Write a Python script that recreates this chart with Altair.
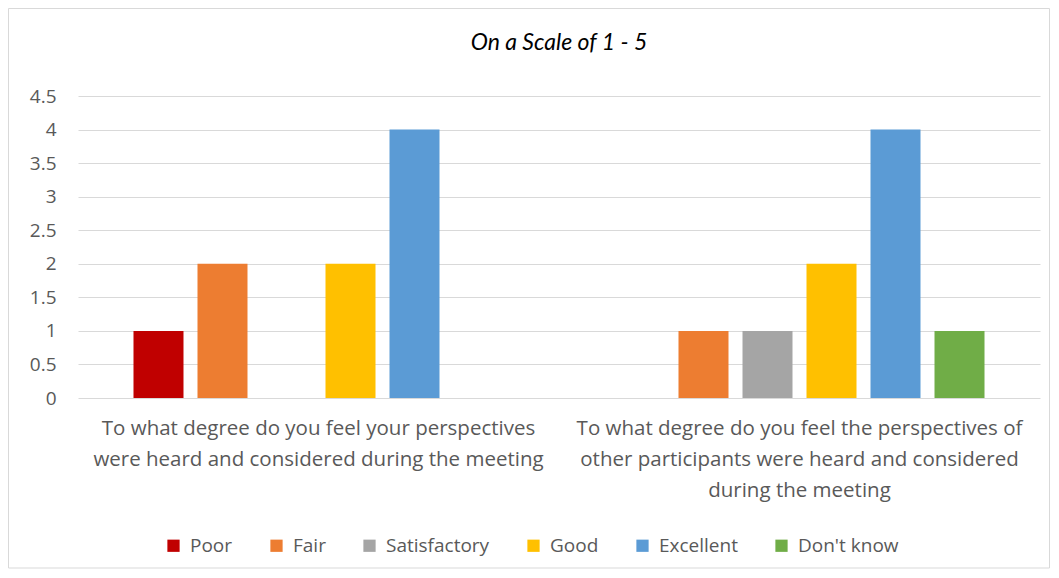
import altair as alt
import pandas as pd

questions = [
    "To what degree do you feel your perspectives|were heard and considered during the meeting",
    "To what degree do you feel the perspectives of|other participants were heard and considered|during the meeting",
]
ratings = ["Poor", "Fair", "Satisfactory", "Good", "Excellent", "Don't know"]
q1_values = [1, 2, 0, 2, 4, 0]
q2_values = [0, 1, 1, 2, 4, 1]
colors = ["#C00000", "#ED7D31", "#A5A5A5", "#FFC000", "#5B9BD5", "#70AD47"]
y_ticks = [0, 0.5, 1, 1.5, 2, 2.5, 3, 3.5, 4, 4.5]

rows = []
for q, vals in zip(questions, [q1_values, q2_values]):
    for r, v in zip(ratings, vals):
        rows.append({"question": q, "rating": r, "value": v})
df = pd.DataFrame(rows)

FONT = "Open Sans"
TXT = "#595959"

bars = alt.Chart(df).mark_bar().encode(
    x=alt.X("question:N", sort=questions, title=None,
            scale=alt.Scale(paddingInner=0, paddingOuter=0),
            axis=alt.Axis(labelExpr="split(datum.label, '|')", labelAngle=0,
                          labelLimit=0, labelFontSize=20.5, labelLineHeight=31,
                          labelColor=TXT, labelFont=FONT, labelPadding=20,
                          domain=False, ticks=False, grid=False)),
    xOffset=alt.XOffset("rating:N", sort=ratings,
                        scale=alt.Scale(paddingInner=0.21875, paddingOuter=0.867)),
    y=alt.Y("value:Q", title=None,
            scale=alt.Scale(domain=[0, 4.5], nice=False),
            axis=alt.Axis(values=y_ticks, format="~g", labelFontSize=19,
                          labelColor=TXT, labelFont=FONT, labelPadding=22,
                          domain=False, ticks=False, gridColor="#D9D9D9",
                          gridWidth=1)),
    color=alt.Color("rating:N", sort=ratings,
                    scale=alt.Scale(domain=ratings, range=colors),
                    legend=alt.Legend(title=None, orient="none", legendX=86,
                                      legendY=440, direction="horizontal",
                                      symbolType="square", symbolSize=150,
                                      symbolStrokeWidth=0, labelFontSize=19,
                                      labelColor=TXT, labelFont=FONT,
                                      labelOffset=7, columnPadding=34)),
)

frame = alt.Chart(alt.Data(values=[{}])).mark_rect(
    fill="transparent", stroke="#D9D9D9", strokeWidth=1
).encode(
    x=alt.value(-69.5), x2=alt.value(971.5),
    y=alt.value(-87.5), y2=alt.value(472),
)

chart = alt.layer(frame, bars).properties(
    width=962, height=302, padding=0,
    title=alt.TitleParams("On a Scale of 1 - 5", font="Lato", fontSize=23,
                          fontStyle="italic", fontWeight="normal",
                          color="#000000", anchor="middle", offset=-47),
).configure_view(stroke=None)

chart.save("out.html", embed_options={"renderer": "svg", "actions": False})
